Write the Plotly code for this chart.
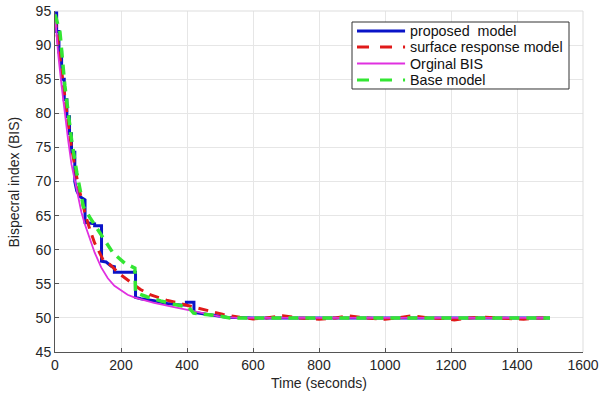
import plotly.graph_objects as go

# ---- data ----
t_prop = [0, 5, 5, 12, 12, 20, 20, 28, 28, 36, 36, 44, 44, 50, 50, 60, 60, 66, 75, 91, 91, 120, 120, 141, 141, 155, 170, 180, 180, 244, 244, 260, 300, 340, 380, 398, 398, 421, 421, 440, 480, 520, 560, 600, 800, 1000, 1200, 1400, 1500]
v_prop = [95, 95, 92, 92, 89, 89, 85, 85, 82, 82, 79.5, 79.5, 77, 77, 74.3, 74.3, 70, 68.6, 67.8, 67.3, 64, 63.8, 63.5, 63.5, 58.3, 58.2, 57.6, 57.5, 56.7, 56.7, 53.0, 52.8, 52.5, 52.1, 51.9, 51.9, 52.3, 52.3, 50.8, 50.7, 50.4, 50.1, 50.0, 50.0, 50.0, 50.0, 50.0, 50.0, 50.0]

t_surf = [0, 10, 20, 30, 40, 50, 60, 70, 80, 90, 106, 120, 146, 167, 197, 218, 258, 288, 338, 380, 420, 460, 510, 560, 600, 640, 690, 740, 800, 850, 890, 940, 1000, 1040, 1080, 1130, 1180, 1210, 1250, 1300, 1360, 1420, 1460, 1500]
v_surf = [94, 90, 86, 82, 78.5, 75, 72, 69.5, 67.5, 65.5, 62.9, 61.0, 58.5, 57.8, 56.4, 55.6, 54.2, 53.4, 52.6, 52.1, 51.6, 51.2, 50.5, 50.1, 49.85, 50.0, 50.3, 50.0, 49.8, 50.0, 50.3, 50.0, 49.8, 50.0, 50.3, 50.0, 49.9, 49.7, 50.0, 50.1, 50.0, 49.8, 50.0, 50.0]

t_orig = [0, 5, 10, 20, 30, 40, 50, 60, 70, 80, 90, 100, 120, 140, 160, 180, 200, 220, 240, 260, 300, 350, 400, 450, 500, 550, 600, 800, 1000, 1200, 1400, 1500]
v_orig = [94.5, 91, 88.5, 84, 79.5, 76, 72.5, 70, 67.5, 65.5, 63.8, 62.3, 59.6, 57.4, 55.8, 54.7, 54.0, 53.4, 53.0, 52.7, 52.2, 51.7, 51.2, 50.6, 50.2, 50.0, 50.0, 50.0, 50.0, 50.0, 50.0, 50.0]

t_base = [0, 15, 30, 50, 66, 86, 106, 141, 176, 212, 242, 244, 278, 320, 360, 404, 420, 480, 530, 600, 800, 1000, 1200, 1400, 1500]
v_base = [94.5, 91.9, 84, 76.2, 71.3, 66.3, 64.7, 62, 59.5, 58, 57.3, 53.7, 53.1, 52.5, 52.0, 51.6, 50.7, 50.4, 50.0, 50.0, 50.0, 50.0, 50.0, 50.0, 50.0]

x_ticks = [0, 200, 400, 600, 800, 1000, 1200, 1400, 1600]
y_ticks = [45, 50, 55, 60, 65, 70, 75, 80, 85, 90, 95]

series_names = ["proposed  model", "surface response model", "Orginal BIS", "Base model"]
series_colors = ["#0a14c8", "#e01a1a", "#e030e0", "#33e633"]
series_widths = [3, 3, 1.8, 3.5]
series_dash = ["solid", "10px,7px", "solid", "10px,7px"]
legend_dash = ["solid", "12px,11px", "solid", "12px,11px"]

fig = go.Figure()
for tx, vy, nm, c, w, d in zip([t_prop, t_surf, t_orig, t_base], [v_prop, v_surf, v_orig, v_base],
                               series_names, series_colors, series_widths, series_dash):
    fig.add_trace(go.Scatter(x=tx, y=vy, mode="lines", name=nm,
                             line=dict(color=c, width=w, dash=d)))

axis_common = dict(showgrid=True, gridcolor="#e6e6e6", gridwidth=1,
                   showline=True, linecolor="#555555", linewidth=1,
                   ticks="inside", ticklen=4, tickcolor="#555555",
                   tickfont=dict(family="Liberation Sans, Arial", size=14, color="#262626"),
                   zeroline=False, mirror=False, automargin=False)

fig.update_layout(
    width=601, height=393,
    margin=dict(l=55, r=18, t=11, b=41, autoexpand=False),
    paper_bgcolor="white", plot_bgcolor="white",
    font=dict(family="Liberation Sans, Arial", color="#262626"),
    xaxis=dict(range=[0, 1600], tickvals=x_ticks,
               title=dict(text="Time (seconds)", font=dict(size=14), standoff=6), **axis_common),
    yaxis=dict(range=[45, 95], tickvals=y_ticks, **axis_common),
    showlegend=False,
)
# y-axis title
fig.add_annotation(xref="paper", yref="paper", x=-0.0777, y=0.5, xanchor="center", yanchor="middle",
                   text="Bispecral index (BIS)", textangle=-90, showarrow=False,
                   font=dict(size=14, color="#262626"))
# light top/right box edges
fig.add_shape(type="line", xref="paper", yref="paper", x0=0, x1=1, y0=1, y1=1,
              line=dict(color="#dddddd", width=1))
fig.add_shape(type="line", xref="paper", yref="paper", x0=1, x1=1, y0=0, y1=1,
              line=dict(color="#dddddd", width=1))

# manual legend box (built from the series lists)
lx0, lx1, ly0, ly1 = 0.5625, 0.9735, 0.7713, 0.9677
fig.add_shape(type="rect", xref="paper", yref="paper", x0=lx0, x1=lx1, y0=ly0, y1=ly1,
              fillcolor="white", line=dict(color="#333333", width=1))
row_y = [0.9413, 0.8944, 0.8460, 0.7977]
for ry, nm, c, w, d in zip(row_y, series_names, series_colors, series_widths, legend_dash):
    fig.add_shape(type="line", xref="paper", yref="paper", x0=0.572, x1=0.663, y0=ry, y1=ry,
                  line=dict(color=c, width=min(w, 3), dash=d))
    fig.add_annotation(xref="paper", yref="paper", x=0.668, y=ry, xanchor="left", yanchor="middle",
                       text=nm, showarrow=False, font=dict(size=14.3, color="#111111"))

fig.write_html("out.html", config={"displayModeBar": False},
               post_script="document.body.style.margin='0';document.body.style.padding='0';")
